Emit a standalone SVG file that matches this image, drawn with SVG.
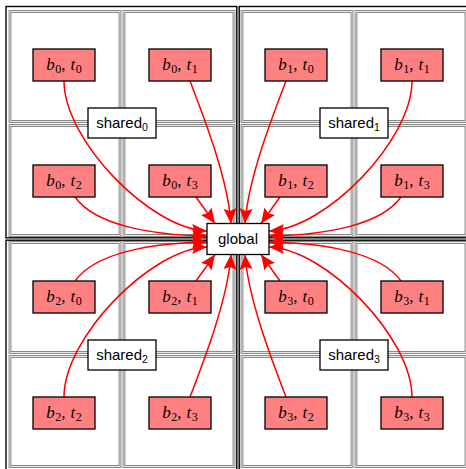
<svg xmlns="http://www.w3.org/2000/svg" width="466" height="469" viewBox="0 0 466 469">
<defs>
<style>
.blk{fill:none;stroke:#000;stroke-width:1.4}
.cello{fill:none;stroke:#7e7e7e;stroke-width:2.8}
.celli{fill:none;stroke:#f2f2f2;stroke-width:0.9}
.nd rect{fill:#ff8080;stroke:#000;stroke-width:1.3}
.sh rect,#global rect{fill:#fff;stroke:#000;stroke-width:1.3}
.m{font-family:"Liberation Serif",serif;font-size:17px;fill:#000}
.m .v{font-style:italic}
.m .s{font-size:12px}
.t{font-family:"Liberation Sans",sans-serif;font-size:15px;fill:#000}
.t .s{font-size:10.5px}
.e{fill:none;stroke:#ff0000;stroke-width:1.5;marker-end:url(#ah)}
</style>
<marker id="ah" markerUnits="userSpaceOnUse" markerWidth="16" markerHeight="14" refX="15" refY="7" orient="auto" viewBox="0 0 16 14">
<path d="M0,0.5 L15,7 L0,13.5 L2.5,7 z" fill="#ff0000"/>
</marker>
</defs>
<g id="frames">
<rect class="blk" x="6" y="6.5" width="230.8" height="231.3"/>
<rect class="blk" x="239.2" y="6.5" width="230.8" height="231.3"/>
<rect class="blk" x="6" y="240.2" width="230.8" height="231"/>
<rect class="blk" x="239.2" y="240.2" width="230.8" height="231"/>
<g id="cells">
<rect class="cello" x="10" y="11.5" width="110" height="110"/><rect class="celli" x="10" y="11.5" width="110" height="110"/>
<rect class="cello" x="124" y="11.5" width="110" height="110"/><rect class="celli" x="124" y="11.5" width="110" height="110"/>
<rect class="cello" x="10" y="125.5" width="110" height="110"/><rect class="celli" x="10" y="125.5" width="110" height="110"/>
<rect class="cello" x="124" y="125.5" width="110" height="110"/><rect class="celli" x="124" y="125.5" width="110" height="110"/>
<rect class="cello" x="242" y="11.5" width="110" height="110"/><rect class="celli" x="242" y="11.5" width="110" height="110"/>
<rect class="cello" x="356" y="11.5" width="110" height="110"/><rect class="celli" x="356" y="11.5" width="110" height="110"/>
<rect class="cello" x="242" y="125.5" width="110" height="110"/><rect class="celli" x="242" y="125.5" width="110" height="110"/>
<rect class="cello" x="356" y="125.5" width="110" height="110"/><rect class="celli" x="356" y="125.5" width="110" height="110"/>
<rect class="cello" x="10" y="242.5" width="110" height="110"/><rect class="celli" x="10" y="242.5" width="110" height="110"/>
<rect class="cello" x="124" y="242.5" width="110" height="110"/><rect class="celli" x="124" y="242.5" width="110" height="110"/>
<rect class="cello" x="10" y="356.5" width="110" height="110"/><rect class="celli" x="10" y="356.5" width="110" height="110"/>
<rect class="cello" x="124" y="356.5" width="110" height="110"/><rect class="celli" x="124" y="356.5" width="110" height="110"/>
<rect class="cello" x="242" y="242.5" width="110" height="110"/><rect class="celli" x="242" y="242.5" width="110" height="110"/>
<rect class="cello" x="356" y="242.5" width="110" height="110"/><rect class="celli" x="356" y="242.5" width="110" height="110"/>
<rect class="cello" x="242" y="356.5" width="110" height="110"/><rect class="celli" x="242" y="356.5" width="110" height="110"/>
<rect class="cello" x="356" y="356.5" width="110" height="110"/><rect class="celli" x="356" y="356.5" width="110" height="110"/>
</g>
</g>
<g id="connectors">
<path class="e" d="M64,81 C64,140 150,229 207,231"/>
<path class="e" d="M190,81 C205,120 228,180 231,223.5"/>
<path class="e" d="M75,197 C95,225 150,235 207,236"/>
<path class="e" d="M196,197 L215,223.5"/>
<path class="e" d="M286,81 C271,120 248,180 245,223.5"/>
<path class="e" d="M412,81 C412,140 326,229 269,231"/>
<path class="e" d="M401,197 C381,225 326,235 269,236"/>
<path class="e" d="M280,197 L261,223.5"/>
<path class="e" d="M64,397 C64,338 150,249 207,247"/>
<path class="e" d="M190,397 C205,358 228,298 231,254.5"/>
<path class="e" d="M75,281 C95,253 150,243 207,242"/>
<path class="e" d="M196,281 L215,254.5"/>
<path class="e" d="M286,397 C271,358 248,298 245,254.5"/>
<path class="e" d="M412,397 C412,338 326,249 269,247"/>
<path class="e" d="M401,281 C381,253 326,243 269,242"/>
<path class="e" d="M280,281 L261,254.5"/>
</g>
<g id="n-b0t0" class="nd"><rect x="33" y="49" width="62" height="32"/><text class="m" x="64" y="70" text-anchor="middle"><tspan class="v">b</tspan><tspan class="s" dx="0.5" dy="3">0</tspan><tspan dy="-3">,</tspan><tspan class="v" dx="5">t</tspan><tspan class="s" dx="0.5" dy="3">0</tspan></text></g>
<g id="n-b0t1" class="nd"><rect x="149" y="49" width="62" height="32"/><text class="m" x="180" y="70" text-anchor="middle"><tspan class="v">b</tspan><tspan class="s" dx="0.5" dy="3">0</tspan><tspan dy="-3">,</tspan><tspan class="v" dx="5">t</tspan><tspan class="s" dx="0.5" dy="3">1</tspan></text></g>
<g id="n-b0t2" class="nd"><rect x="33" y="165" width="62" height="32"/><text class="m" x="64" y="186" text-anchor="middle"><tspan class="v">b</tspan><tspan class="s" dx="0.5" dy="3">0</tspan><tspan dy="-3">,</tspan><tspan class="v" dx="5">t</tspan><tspan class="s" dx="0.5" dy="3">2</tspan></text></g>
<g id="n-b0t3" class="nd"><rect x="149" y="165" width="62" height="32"/><text class="m" x="180" y="186" text-anchor="middle"><tspan class="v">b</tspan><tspan class="s" dx="0.5" dy="3">0</tspan><tspan dy="-3">,</tspan><tspan class="v" dx="5">t</tspan><tspan class="s" dx="0.5" dy="3">3</tspan></text></g>
<g id="n-b1t0" class="nd"><rect x="265" y="49" width="62" height="32"/><text class="m" x="296" y="70" text-anchor="middle"><tspan class="v">b</tspan><tspan class="s" dx="0.5" dy="3">1</tspan><tspan dy="-3">,</tspan><tspan class="v" dx="5">t</tspan><tspan class="s" dx="0.5" dy="3">0</tspan></text></g>
<g id="n-b1t1" class="nd"><rect x="381" y="49" width="62" height="32"/><text class="m" x="412" y="70" text-anchor="middle"><tspan class="v">b</tspan><tspan class="s" dx="0.5" dy="3">1</tspan><tspan dy="-3">,</tspan><tspan class="v" dx="5">t</tspan><tspan class="s" dx="0.5" dy="3">1</tspan></text></g>
<g id="n-b1t2" class="nd"><rect x="265" y="165" width="62" height="32"/><text class="m" x="296" y="186" text-anchor="middle"><tspan class="v">b</tspan><tspan class="s" dx="0.5" dy="3">1</tspan><tspan dy="-3">,</tspan><tspan class="v" dx="5">t</tspan><tspan class="s" dx="0.5" dy="3">2</tspan></text></g>
<g id="n-b1t3" class="nd"><rect x="381" y="165" width="62" height="32"/><text class="m" x="412" y="186" text-anchor="middle"><tspan class="v">b</tspan><tspan class="s" dx="0.5" dy="3">1</tspan><tspan dy="-3">,</tspan><tspan class="v" dx="5">t</tspan><tspan class="s" dx="0.5" dy="3">3</tspan></text></g>
<g id="n-b2t0" class="nd"><rect x="33" y="281" width="62" height="32"/><text class="m" x="64" y="302" text-anchor="middle"><tspan class="v">b</tspan><tspan class="s" dx="0.5" dy="3">2</tspan><tspan dy="-3">,</tspan><tspan class="v" dx="5">t</tspan><tspan class="s" dx="0.5" dy="3">0</tspan></text></g>
<g id="n-b2t1" class="nd"><rect x="149" y="281" width="62" height="32"/><text class="m" x="180" y="302" text-anchor="middle"><tspan class="v">b</tspan><tspan class="s" dx="0.5" dy="3">2</tspan><tspan dy="-3">,</tspan><tspan class="v" dx="5">t</tspan><tspan class="s" dx="0.5" dy="3">1</tspan></text></g>
<g id="n-b2t2" class="nd"><rect x="33" y="397" width="62" height="32"/><text class="m" x="64" y="418" text-anchor="middle"><tspan class="v">b</tspan><tspan class="s" dx="0.5" dy="3">2</tspan><tspan dy="-3">,</tspan><tspan class="v" dx="5">t</tspan><tspan class="s" dx="0.5" dy="3">2</tspan></text></g>
<g id="n-b2t3" class="nd"><rect x="149" y="397" width="62" height="32"/><text class="m" x="180" y="418" text-anchor="middle"><tspan class="v">b</tspan><tspan class="s" dx="0.5" dy="3">2</tspan><tspan dy="-3">,</tspan><tspan class="v" dx="5">t</tspan><tspan class="s" dx="0.5" dy="3">3</tspan></text></g>
<g id="n-b3t0" class="nd"><rect x="265" y="281" width="62" height="32"/><text class="m" x="296" y="302" text-anchor="middle"><tspan class="v">b</tspan><tspan class="s" dx="0.5" dy="3">3</tspan><tspan dy="-3">,</tspan><tspan class="v" dx="5">t</tspan><tspan class="s" dx="0.5" dy="3">0</tspan></text></g>
<g id="n-b3t1" class="nd"><rect x="381" y="281" width="62" height="32"/><text class="m" x="412" y="302" text-anchor="middle"><tspan class="v">b</tspan><tspan class="s" dx="0.5" dy="3">3</tspan><tspan dy="-3">,</tspan><tspan class="v" dx="5">t</tspan><tspan class="s" dx="0.5" dy="3">1</tspan></text></g>
<g id="n-b3t2" class="nd"><rect x="265" y="397" width="62" height="32"/><text class="m" x="296" y="418" text-anchor="middle"><tspan class="v">b</tspan><tspan class="s" dx="0.5" dy="3">3</tspan><tspan dy="-3">,</tspan><tspan class="v" dx="5">t</tspan><tspan class="s" dx="0.5" dy="3">2</tspan></text></g>
<g id="n-b3t3" class="nd"><rect x="381" y="397" width="62" height="32"/><text class="m" x="412" y="418" text-anchor="middle"><tspan class="v">b</tspan><tspan class="s" dx="0.5" dy="3">3</tspan><tspan dy="-3">,</tspan><tspan class="v" dx="5">t</tspan><tspan class="s" dx="0.5" dy="3">3</tspan></text></g>
<g id="shared0" class="sh"><rect x="88" y="108" width="68" height="30"/><text class="t" x="122" y="128" text-anchor="middle">shared<tspan class="s" dy="3">0</tspan></text></g>
<g id="shared1" class="sh"><rect x="320" y="108" width="68" height="30"/><text class="t" x="354" y="128" text-anchor="middle">shared<tspan class="s" dy="3">1</tspan></text></g>
<g id="shared2" class="sh"><rect x="88" y="340" width="68" height="30"/><text class="t" x="122" y="360" text-anchor="middle">shared<tspan class="s" dy="3">2</tspan></text></g>
<g id="shared3" class="sh"><rect x="320" y="340" width="68" height="30"/><text class="t" x="354" y="360" text-anchor="middle">shared<tspan class="s" dy="3">3</tspan></text></g>
<g id="global"><rect x="207" y="223.5" width="62" height="31"/><text class="t" x="238" y="244" text-anchor="middle">global</text></g>
</svg>
